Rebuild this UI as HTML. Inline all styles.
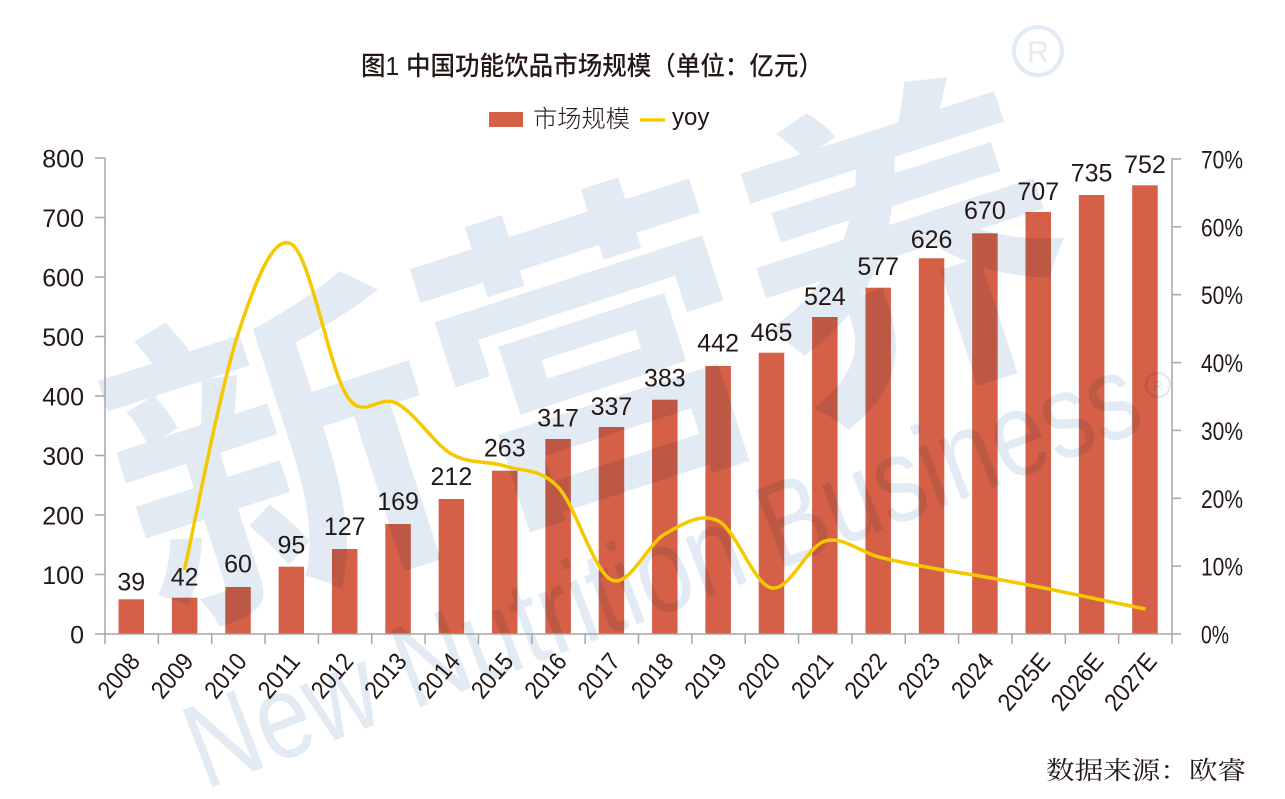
<!DOCTYPE html>
<html>
<head>
<meta charset="utf-8">
<style>
html,body{margin:0;padding:0;background:#fff;}
body{width:1285px;height:799px;overflow:hidden;}
svg{display:block;}
</style>
</head>
<body>
<svg width="1285" height="799" viewBox="0 0 1285 799" xmlns="http://www.w3.org/2000/svg">
<rect x="0" y="0" width="1285" height="799" fill="#ffffff"/>

<!-- Title -->
<text x="361" y="75" font-family="'Liberation Sans','Noto Sans CJK SC',sans-serif" font-size="26" font-weight="500" fill="#231815" textLength="462" lengthAdjust="spacingAndGlyphs">图1 中国功能饮品市场规模（单位：亿元）</text>

<!-- Legend -->
<rect x="489" y="112" width="34" height="15" fill="#d65f47"/>
<text x="533" y="127" font-family="'Liberation Sans','Noto Sans CJK SC',sans-serif" font-size="24" font-weight="300" fill="#231815" textLength="97" lengthAdjust="spacingAndGlyphs">市场规模</text>
<line x1="640" y1="120" x2="665" y2="120" stroke="#f5c800" stroke-width="3.5"/>
<text x="672" y="125" font-family="'Liberation Sans',sans-serif" font-size="24" fill="#231815">yoy</text>

<!-- Bars -->
<g fill="#d65f47">
<rect x="118.55" y="599.3" width="25.5" height="34.7"/>
<rect x="171.9" y="597.7" width="25.5" height="36.3"/>
<rect x="225.25" y="587" width="25.5" height="47"/>
<rect x="278.6" y="566.7" width="25.5" height="67.3"/>
<rect x="331.95" y="549" width="25.5" height="85"/>
<rect x="385.3" y="524" width="25.5" height="110"/>
<rect x="438.65" y="499" width="25.5" height="135"/>
<rect x="492" y="470.7" width="25.5" height="163.3"/>
<rect x="545.35" y="439" width="25.5" height="195"/>
<rect x="598.7" y="427" width="25.5" height="207"/>
<rect x="652.05" y="399.7" width="25.5" height="234.3"/>
<rect x="705.4" y="366" width="25.5" height="268"/>
<rect x="758.75" y="352.7" width="25.5" height="281.3"/>
<rect x="812.1" y="317" width="25.5" height="317"/>
<rect x="865.45" y="287.7" width="25.5" height="346.3"/>
<rect x="918.8" y="258.3" width="25.5" height="375.7"/>
<rect x="972.15" y="233.3" width="25.5" height="400.7"/>
<rect x="1025.5" y="212" width="25.5" height="422"/>
<rect x="1078.85" y="195" width="25.5" height="439"/>
<rect x="1132.2" y="185.3" width="25.5" height="448.7"/>
</g>

<!-- Watermark -->
<g style="mix-blend-mode:multiply" fill="#e2ebf4">
  <g transform="translate(590,350) rotate(-18)">
    <text x="0" y="125" text-anchor="middle" font-family="'Noto Sans CJK SC',sans-serif" font-size="330" font-weight="700">新营养</text>
  </g>
  <g transform="translate(205,790) rotate(-21)">
    <text x="0" y="0" font-family="'Liberation Sans',sans-serif" font-size="120" textLength="1010" lengthAdjust="spacingAndGlyphs">New Nutrition Business</text>
  </g>
  <circle cx="1038" cy="51" r="24" fill="none" stroke="#e2ebf4" stroke-width="4"/>
  <text x="1038" y="62" text-anchor="middle" font-family="'Liberation Sans',sans-serif" font-size="30">R</text>
  <circle cx="1158" cy="385" r="12" fill="none" stroke="#e2ebf4" stroke-width="2.5"/>
  <text x="1158" y="391" text-anchor="middle" font-family="'Liberation Sans',sans-serif" font-size="15">R</text>
</g>

<!-- Axes -->
<g stroke="#a6a6a6" stroke-width="1.5" fill="none">
  <line x1="105" y1="158" x2="105" y2="634"/>
  <line x1="1172" y1="158" x2="1172" y2="634"/>
  <line x1="95" y1="634" x2="1181" y2="634"/>
  <!-- left ticks -->
  <line x1="95" y1="574.5" x2="105" y2="574.5"/>
  <line x1="95" y1="515" x2="105" y2="515"/>
  <line x1="95" y1="455.5" x2="105" y2="455.5"/>
  <line x1="95" y1="396" x2="105" y2="396"/>
  <line x1="95" y1="336.5" x2="105" y2="336.5"/>
  <line x1="95" y1="277" x2="105" y2="277"/>
  <line x1="95" y1="217.5" x2="105" y2="217.5"/>
  <line x1="95" y1="158" x2="105" y2="158"/>
  <!-- right ticks -->
  <line x1="1172" y1="566.1" x2="1181" y2="566.1"/>
  <line x1="1172" y1="498.3" x2="1181" y2="498.3"/>
  <line x1="1172" y1="430.4" x2="1181" y2="430.4"/>
  <line x1="1172" y1="362.6" x2="1181" y2="362.6"/>
  <line x1="1172" y1="294.7" x2="1181" y2="294.7"/>
  <line x1="1172" y1="226.8" x2="1181" y2="226.8"/>
  <line x1="1172" y1="159" x2="1181" y2="159"/>
  <!-- category ticks -->
  <line x1="105" y1="634" x2="105" y2="644"/>
  <line x1="158.35" y1="634" x2="158.35" y2="644"/>
  <line x1="211.7" y1="634" x2="211.7" y2="644"/>
  <line x1="265.05" y1="634" x2="265.05" y2="644"/>
  <line x1="318.4" y1="634" x2="318.4" y2="644"/>
  <line x1="371.75" y1="634" x2="371.75" y2="644"/>
  <line x1="425.1" y1="634" x2="425.1" y2="644"/>
  <line x1="478.45" y1="634" x2="478.45" y2="644"/>
  <line x1="531.8" y1="634" x2="531.8" y2="644"/>
  <line x1="585.15" y1="634" x2="585.15" y2="644"/>
  <line x1="638.5" y1="634" x2="638.5" y2="644"/>
  <line x1="691.85" y1="634" x2="691.85" y2="644"/>
  <line x1="745.2" y1="634" x2="745.2" y2="644"/>
  <line x1="798.55" y1="634" x2="798.55" y2="644"/>
  <line x1="851.9" y1="634" x2="851.9" y2="644"/>
  <line x1="905.25" y1="634" x2="905.25" y2="644"/>
  <line x1="958.6" y1="634" x2="958.6" y2="644"/>
  <line x1="1011.95" y1="634" x2="1011.95" y2="644"/>
  <line x1="1065.3" y1="634" x2="1065.3" y2="644"/>
  <line x1="1118.65" y1="634" x2="1118.65" y2="644"/>
  <line x1="1172" y1="634" x2="1172" y2="644"/>
</g>

<!-- YoY line -->
<path fill="none" stroke="#f5c800" stroke-width="3.5" stroke-linejoin="round" stroke-linecap="butt"
d="M184.4,570 C193.33,530.67 220.17,388.33 238,334 C255.83,279.67 273.62,234.33 291.4,244 C309.18,253.67 327.4,359 344.7,392 C362,425 378,392 398,404 C418,416 433.7,443.67 451.5,454 C469.3,464.33 487.05,460.5 504.8,466 C522.55,471.5 540.18,468 558,487 C575.82,506 593.87,572.17 611.7,580 C629.53,587.83 647.22,543.83 665,534 C682.78,524.17 700.62,512 718.4,521 C736.18,530 753.93,584.67 771.7,588 C789.47,591.33 807.15,546.17 825,541 C842.85,535.83 860.97,552.5 878.8,557 C896.63,561.5 914.22,564.67 932,568 C949.78,571.33 967.7,573.83 985.5,577 C1003.3,580.17 1021.05,583.5 1038.8,587 C1056.55,590.5 1074.22,594.33 1092,598 C1109.78,601.67 1136.58,607.17 1145.5,609"/>

<!-- Left axis labels -->
<g font-family="'Liberation Sans',sans-serif" font-size="25" fill="#231815" text-anchor="end">
<text x="84" y="643.5">0</text>
<text x="84" y="584">100</text>
<text x="84" y="524.5">200</text>
<text x="84" y="465">300</text>
<text x="84" y="405.5">400</text>
<text x="84" y="346">500</text>
<text x="84" y="286.5">600</text>
<text x="84" y="227">700</text>
<text x="84" y="167.5">800</text>
</g>

<!-- Right axis labels -->
<g font-family="'Liberation Sans',sans-serif" font-size="25" fill="#231815">
<text x="1201" y="643.5" textLength="28" lengthAdjust="spacingAndGlyphs">0%</text>
<text x="1201" y="575.6" textLength="42" lengthAdjust="spacingAndGlyphs">10%</text>
<text x="1201" y="507.8" textLength="42" lengthAdjust="spacingAndGlyphs">20%</text>
<text x="1201" y="439.9" textLength="42" lengthAdjust="spacingAndGlyphs">30%</text>
<text x="1201" y="372.1" textLength="42" lengthAdjust="spacingAndGlyphs">40%</text>
<text x="1201" y="304.2" textLength="42" lengthAdjust="spacingAndGlyphs">50%</text>
<text x="1201" y="236.3" textLength="42" lengthAdjust="spacingAndGlyphs">60%</text>
<text x="1201" y="168.5" textLength="42" lengthAdjust="spacingAndGlyphs">70%</text>
</g>

<!-- Bar value labels -->
<g font-family="'Liberation Sans',sans-serif" font-size="25" fill="#231815" text-anchor="middle">
<text x="131.3" y="590.7">39</text>
<text x="184.65" y="585.7">42</text>
<text x="238" y="572.3">60</text>
<text x="291.35" y="553.3">95</text>
<text x="344.7" y="535">127</text>
<text x="398.05" y="510">169</text>
<text x="451.4" y="485">212</text>
<text x="504.75" y="456.7">263</text>
<text x="558.1" y="426.7">317</text>
<text x="611.45" y="415">337</text>
<text x="664.8" y="386.7">383</text>
<text x="718.15" y="351.7">442</text>
<text x="771.5" y="341">465</text>
<text x="824.85" y="305">524</text>
<text x="878.2" y="275">577</text>
<text x="931.55" y="248">626</text>
<text x="984.9" y="219">670</text>
<text x="1038.25" y="200">707</text>
<text x="1091.6" y="181.7">735</text>
<text x="1144.95" y="173">752</text>
</g>

<!-- X axis labels -->
<g font-family="'Liberation Sans',sans-serif" font-size="25" fill="#231815" text-anchor="end">
<text transform="translate(141.3,662) rotate(-50)" textLength="50" lengthAdjust="spacingAndGlyphs">2008</text>
<text transform="translate(194.65,662) rotate(-50)" textLength="50" lengthAdjust="spacingAndGlyphs">2009</text>
<text transform="translate(248,662) rotate(-50)" textLength="50" lengthAdjust="spacingAndGlyphs">2010</text>
<text transform="translate(301.35,662) rotate(-50)" textLength="50" lengthAdjust="spacingAndGlyphs">2011</text>
<text transform="translate(354.7,662) rotate(-50)" textLength="50" lengthAdjust="spacingAndGlyphs">2012</text>
<text transform="translate(408.05,662) rotate(-50)" textLength="50" lengthAdjust="spacingAndGlyphs">2013</text>
<text transform="translate(461.4,662) rotate(-50)" textLength="50" lengthAdjust="spacingAndGlyphs">2014</text>
<text transform="translate(514.75,662) rotate(-50)" textLength="50" lengthAdjust="spacingAndGlyphs">2015</text>
<text transform="translate(568.1,662) rotate(-50)" textLength="50" lengthAdjust="spacingAndGlyphs">2016</text>
<text transform="translate(621.45,662) rotate(-50)" textLength="50" lengthAdjust="spacingAndGlyphs">2017</text>
<text transform="translate(674.8,662) rotate(-50)" textLength="50" lengthAdjust="spacingAndGlyphs">2018</text>
<text transform="translate(728.15,662) rotate(-50)" textLength="50" lengthAdjust="spacingAndGlyphs">2019</text>
<text transform="translate(781.5,662) rotate(-50)" textLength="50" lengthAdjust="spacingAndGlyphs">2020</text>
<text transform="translate(834.85,662) rotate(-50)" textLength="50" lengthAdjust="spacingAndGlyphs">2021</text>
<text transform="translate(888.2,662) rotate(-50)" textLength="50" lengthAdjust="spacingAndGlyphs">2022</text>
<text transform="translate(941.55,662) rotate(-50)" textLength="50" lengthAdjust="spacingAndGlyphs">2023</text>
<text transform="translate(994.9,662) rotate(-50)" textLength="50" lengthAdjust="spacingAndGlyphs">2024</text>
<text transform="translate(1051.5,662) rotate(-50)" textLength="66" lengthAdjust="spacingAndGlyphs">2025E</text>
<text transform="translate(1104.85,662) rotate(-50)" textLength="66" lengthAdjust="spacingAndGlyphs">2026E</text>
<text transform="translate(1158.2,662) rotate(-50)" textLength="66" lengthAdjust="spacingAndGlyphs">2027E</text>
</g>

<!-- Source -->
<text x="1046" y="779" font-family="'Liberation Serif','Noto Serif CJK SC',serif" font-size="25" fill="#231815" textLength="200" lengthAdjust="spacingAndGlyphs">数据来源：欧睿</text>
</svg>
</body>
</html>
